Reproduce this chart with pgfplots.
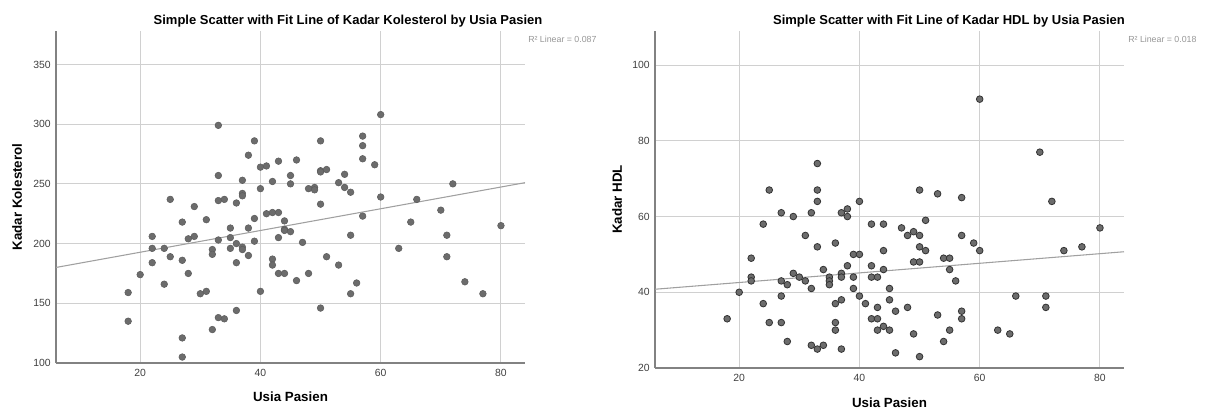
\documentclass[border=0pt]{standalone}
\usepackage{fontspec}
\setmainfont{Liberation Sans}
\usepackage{pgfplots}
\pgfplotsset{compat=1.18}
\usepackage{pgfplotstable}
\definecolor{gridgray}{RGB}{208,208,208}
\definecolor{axisgray}{RGB}{130,130,130}
\definecolor{dotgray}{RGB}{108,108,108}
\definecolor{fitgray}{RGB}{160,160,160}
\definecolor{labgray}{RGB}{150,150,150}
\pgfplotsset{spss/.style={scale only axis, width=351.75pt, xmin=6, xmax=84, xtick={20,40,60,80},
  axis x line*=bottom, axis y line*=left, axis line style={-, draw=axisgray, line width=0.9pt},
  grid=major, grid style={draw=gridgray, line width=0.75pt}, major tick length=0pt,
  tick label style={font=\fontsize{7.8}{9}\selectfont, text=black!75},
  /pgf/number format/assume math mode=true,
  xticklabel style={yshift=-1.5pt}, yticklabel style={xshift=-0.5pt},
  label style={font=\bfseries\fontsize{10}{12}\selectfont},
  xlabel={Usia Pasien}, xlabel style={at={(axis description cs:0.5,-0.102)}, anchor=center}}}

% Usia Pasien vs Kadar Kolesterol
\pgfplotstableread{
x y
18 159
18 135
20 174
22 206
22 196
22 184
24 196
24 166
25 237
25 189
27 218
27 186
27 121
27 105
28 204
28 175
29 231
29 206
30 158
31 220
31 160
32 195
32 191
32 128
33 299
33 257
33 236
33 203
33 138
34 237
34 137
35 213
35 205
35 196
36 234
36 200
36 184
36 144
37 253
37 242
37 240
37 197
37 195
38 274
38 213
38 190
39 286
39 221
39 202
40 264
40 246
40 160
41 265
41 225
42 252
42 226
42 187
42 182
43 269
43 226
43 205
43 175
44 219
44 212
44 211
44 175
45 257
45 250
45 210
46 270
46 169
47 201
48 246
48 175
49 247
49 245
50 286
50 261
50 260
50 233
50 146
51 262
51 189
53 251
53 182
54 258
54 247
55 243
55 207
55 158
56 167
57 290
57 282
57 271
57 223
59 266
60 308
60 239
63 196
65 218
66 237
70 228
71 207
71 189
72 250
74 168
77 158
80 215
}\kolesterol

% Usia Pasien vs Kadar HDL
\pgfplotstableread{
x y
18 33
20 40
22 49
22 44
22 43
24 58
24 37
25 67
25 32
27 61
27 43
27 39
27 32
28 42
28 27
29 60
29 45
30 44
31 55
31 43
32 61
32 41
32 26
33 74
33 67
33 64
33 52
33 25
34 46
34 26
35 44
35 43
35 42
36 53
36 37
36 32
36 30
37 61
37 45
37 44
37 38
37 25
38 62
38 60
38 47
39 50
39 44
39 41
40 64
40 50
40 39
41 37
42 58
42 47
42 44
42 33
43 44
43 36
43 33
43 30
44 58
44 51
44 46
44 31
45 41
45 38
45 30
46 35
46 24
47 57
48 55
48 36
49 56
49 48
49 29
50 67
50 55
50 52
50 48
50 23
51 59
51 51
53 66
53 34
54 49
54 27
55 49
55 46
55 30
56 43
57 65
57 55
57 35
57 33
59 53
60 91
60 51
63 30
65 29
66 39
70 77
71 39
71 36
72 64
74 51
77 52
80 57
}\hdl

\begin{document}
\begin{tikzpicture}
\path[use as bounding box] (0,0) rectangle (904.5pt,-307.5pt);

\begin{axis}[spss, at={(42pt,-23.25pt)}, anchor=north west, height=249pt,
  ymin=100, ymax=378, ytick={100,150,200,250,300,350},
  ylabel={Kadar Kolesterol}, ylabel style={at={(axis description cs:-0.083,0.5)}, anchor=center}]
\addplot[only marks, mark=*, mark size=2.5pt, mark options={fill=dotgray, draw=dotgray!85!black, line width=0.4pt}] table[x=x, y=y] {\kolesterol};
\addplot[fitgray, line width=0.8pt] coordinates {(6,180) (84,251)};
\end{axis}

\begin{axis}[spss, at={(491.25pt,-23.25pt)}, anchor=north west, height=252.75pt,
  ymin=20, ymax=109, ytick={20,40,60,80,100},
  ylabel={Kadar HDL}, ylabel style={at={(axis description cs:-0.081,0.5)}, anchor=center}]
\addplot[only marks, mark=*, mark size=2.5pt, mark options={fill=dotgray, draw=black!80, line width=0.6pt}] table[x=x, y=y] {\hdl};
\addplot[fitgray, line width=0.8pt] coordinates {(6,40.8) (84,50.7)};
\end{axis}

\node[font=\bfseries\fontsize{9.75}{11}\selectfont] at (261pt,-15.5pt) {Simple Scatter with Fit Line of Kadar Kolesterol by Usia Pasien};
\node[font=\bfseries\fontsize{9.75}{11}\selectfont] at (711.75pt,-15.5pt) {Simple Scatter with Fit Line of Kadar HDL by Usia Pasien};
\node[anchor=west, inner sep=0pt, text=labgray, font=\fontsize{6.6}{7}\selectfont] at (396pt,-29.25pt) {R² Linear = 0.087};
\node[anchor=west, inner sep=0pt, text=labgray, font=\fontsize{6.6}{7}\selectfont] at (846pt,-29.25pt) {R² Linear = 0.018};
\end{tikzpicture}
\end{document}
